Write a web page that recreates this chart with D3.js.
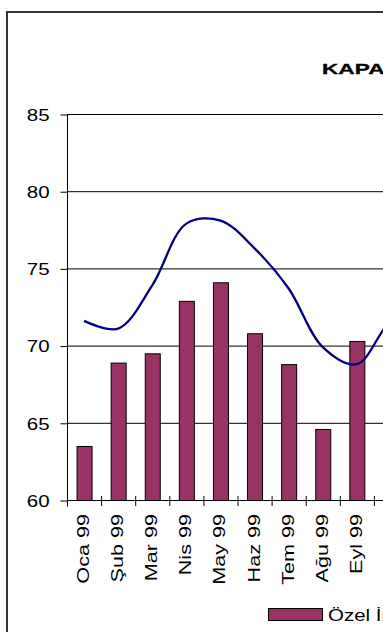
<!DOCTYPE html>
<html><head><meta charset="utf-8">
<script src="https://cdn.jsdelivr.net/npm/d3@7"></script>
<style>html,body{margin:0;padding:0;overflow:hidden;background:#fff;}svg{display:block;}</style>
</head><body>
<script>
const months = ["Oca 99","Şub 99","Mar 99","Nis 99","May 99","Haz 99","Tem 99","Ağu 99","Eyl 99","Eki 99","Kas 99","Ara 99"];
const barValues = [63.5,68.9,69.5,72.9,74.1,70.8,68.8,64.6,70.3,72.1,71.5,70.0];
const lineValues = [71.6,71.1,73.9,77.9,78.1,76.3,73.7,69.9,68.8,71.6,72.6,73.0];
const yTicks = [60,65,70,75,80,85];
const titleText = "KAPASİTE KULLANIM ORANLARI";
const legendLabel = "Özel İmalat Sanayi";

const W = 900, H = 632;
const svg = d3.select("body").append("svg").attr("width", W).attr("height", H);

const x0 = 67, step = 34.1;
const x = d3.scaleBand().domain(months).range([x0, x0 + step * months.length]).paddingInner(0).paddingOuter(0);
const y = d3.scaleLinear().domain([60, 85]).range([500, 114]);
const font = "Arial, 'Liberation Sans', sans-serif";

function stretch(sel, f) {
  sel.each(function () {
    const L = this.getComputedTextLength();
    d3.select(this).attr("textLength", L * f).attr("lengthAdjust", "spacingAndGlyphs");
  });
}

// outer chart border
svg.append("rect").attr("x", 7).attr("y", 12).attr("width", W).attr("height", H + 20)
  .attr("fill", "none").attr("stroke", "#333").attr("stroke-width", 2);

// title
svg.append("text").attr("transform", "translate(322,74) scale(1.62,1)")
  .attr("font-family", font).attr("font-weight", "bold").attr("font-size", 14)
  .attr("fill", "#000").attr("stroke", "#000").attr("stroke-width", 0.3).text(titleText);

// gridlines
const [xr0, xr1] = x.range();
svg.append("g").selectAll("line").data(yTicks.filter(d => d > 60)).join("line")
  .attr("x1", xr0).attr("x2", xr1)
  .attr("y1", d => y(d) + 0.5).attr("y2", d => y(d) + 0.5)
  .attr("stroke", "#000").attr("stroke-width", 1);

// y axis
const yAxis = d3.axisLeft(y).tickValues(yTicks).tickSize(7).tickPadding(11);
const gy = svg.append("g").attr("transform", `translate(${x0 + 0.5},0.5)`).call(yAxis);
gy.select(".domain").attr("stroke", "#000").attr("d", `M0,${y(85)}V${y(60) + 6}`);
gy.selectAll(".tick line").attr("stroke", "#000");
gy.selectAll(".tick text").attr("font-family", font).attr("font-size", 16).attr("fill", "#000").attr("dy", "0.36em");
stretch(gy.selectAll(".tick text"), 1.28);

// bars
svg.append("g").selectAll("rect").data(months).join("rect")
  .attr("x", (d) => x(d) + x.bandwidth() / 2 - 7.5 + 0.5)
  .attr("width", 15)
  .attr("y", (d, i) => y(barValues[i]) + 0.5)
  .attr("height", (d, i) => y(60) - y(barValues[i]))
  .attr("fill", "#993366").attr("stroke", "#000").attr("stroke-width", 1);

// x axis
svg.append("line").attr("x1", xr0).attr("x2", xr1).attr("y1", y(60) + 0.5).attr("y2", y(60) + 0.5)
  .attr("stroke", "#000");
svg.append("g").selectAll("line").data(d3.range(months.length + 1)).join("line")
  .attr("x1", i => xr0 + i * x.step() + 0.5).attr("x2", i => xr0 + i * x.step() + 0.5)
  .attr("y1", y(60) - 4).attr("y2", y(60) + 6)
  .attr("stroke", "#000");

// category labels
const lbl = svg.append("g").selectAll("text").data(months).join("text")
  .attr("transform", d => `translate(${x(d) + x.bandwidth() / 2 + 5},514) rotate(-90)`)
  .attr("text-anchor", "end")
  .attr("font-family", font).attr("font-size", 16).attr("fill", "#000")
  .text(d => d);
stretch(lbl, 1.35);

// line
const line = d3.line()
  .x((d, i) => x(months[i]) + x.bandwidth() / 2)
  .y(d => y(d))
  .curve(d3.curveCatmullRom.alpha(0.5));
svg.append("path").datum(lineValues).attr("d", line)
  .attr("fill", "none").attr("stroke", "#000080").attr("stroke-width", 2.3);

// legend
svg.append("rect").attr("x", 268.5).attr("y", 608.5).attr("width", 54).attr("height", 12)
  .attr("fill", "#993366").attr("stroke", "#000");
const lt = svg.append("text").attr("x", 328).attr("y", 621)
  .attr("font-family", font).attr("font-size", 16).attr("fill", "#000").text(legendLabel);
stretch(lt, 1.28);
</script>
</body></html>
